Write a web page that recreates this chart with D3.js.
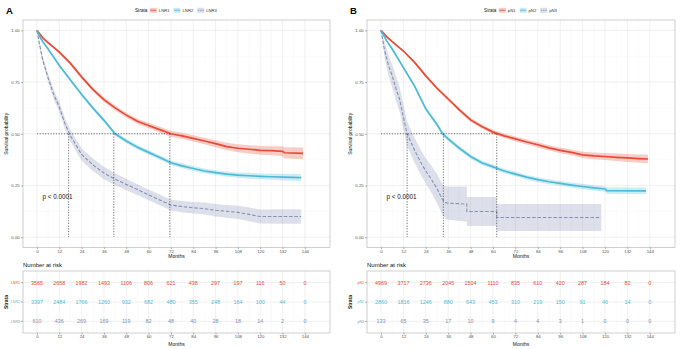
<!DOCTYPE html>
<html>
<head>
<meta charset="utf-8">
<script src="https://cdn.jsdelivr.net/npm/d3@7"></script>
<style>
  body { margin: 0; background: #fff; }
  svg { display: block; font-family: "Liberation Sans", Arial, sans-serif; }
</style>
</head>
<body>
<div id="chart"></div>
<script>
// ---- data ----
const monthTicks = [0, 12, 24, 36, 48, 60, 72, 84, 96, 108, 120, 132, 144];
const survTicks = [0, 0.25, 0.5, 0.75, 1];
const survTickLabels = ["0.00", "0.25", "0.50", "0.75", "1.00"];
const colors = ["#E64B35", "#4DBBD5", "#8491B4"];

// Panel A: LNR strata
const lnrNames = ["LNR1", "LNR2", "LNR3"];
const lnr1Time = [0, 3, 6, 9, 12, 18, 24, 30, 36, 42, 48, 54, 60, 66, 72, 78, 84, 90, 96, 102, 108, 114, 120, 126, 132, 133, 143];
const lnr1Surv = [1, 0.965, 0.94, 0.918, 0.895, 0.84, 0.775, 0.715, 0.665, 0.625, 0.59, 0.56, 0.54, 0.52, 0.50, 0.49, 0.478, 0.465, 0.452, 0.438, 0.43, 0.425, 0.42, 0.418, 0.415, 0.408, 0.405];
const lnr1Ci = [0, 0.004, 0.005, 0.006, 0.007, 0.008, 0.009, 0.01, 0.011, 0.012, 0.012, 0.013, 0.013, 0.014, 0.014, 0.015, 0.015, 0.016, 0.017, 0.018, 0.019, 0.02, 0.021, 0.022, 0.024, 0.027, 0.028];
const lnr2Time = [0, 2, 6, 12, 18, 24, 30, 36, 42, 48, 54, 60, 66, 72, 78, 84, 90, 96, 102, 108, 114, 120, 126, 132, 142];
const lnr2Surv = [1, 0.96, 0.91, 0.83, 0.76, 0.69, 0.625, 0.565, 0.50, 0.465, 0.435, 0.41, 0.385, 0.36, 0.345, 0.332, 0.32, 0.312, 0.305, 0.30, 0.297, 0.294, 0.292, 0.29, 0.288];
const lnr2Ci = [0, 0.004, 0.005, 0.007, 0.008, 0.009, 0.009, 0.01, 0.01, 0.011, 0.011, 0.011, 0.011, 0.011, 0.012, 0.012, 0.012, 0.012, 0.013, 0.013, 0.014, 0.014, 0.015, 0.016, 0.017];
const lnr3Time = [0, 1, 3, 6, 9, 12, 15, 18, 24, 30, 36, 42, 48, 54, 60, 66, 72, 78, 84, 90, 96, 102, 108, 114, 120, 132, 142];
const lnr3Surv = [1, 0.95, 0.86, 0.77, 0.69, 0.63, 0.55, 0.49, 0.40, 0.35, 0.31, 0.28, 0.255, 0.23, 0.205, 0.18, 0.155, 0.148, 0.142, 0.138, 0.13, 0.125, 0.12, 0.11, 0.10, 0.10, 0.10];
const lnr3Ci = [0, 0.012, 0.016, 0.02, 0.023, 0.025, 0.027, 0.028, 0.03, 0.03, 0.03, 0.029, 0.028, 0.026, 0.026, 0.026, 0.026, 0.027, 0.028, 0.029, 0.03, 0.031, 0.032, 0.033, 0.034, 0.035, 0.035];
const lnrMedians = [71.4, 41.3, 17];
const lnrRisk1 = [3565, 2658, 1982, 1493, 1106, 806, 621, 438, 297, 197, 116, 50, 0];
const lnrRisk2 = [3397, 2484, 1766, 1260, 932, 682, 480, 355, 248, 164, 100, 44, 0];
const lnrRisk3 = [610, 436, 269, 169, 119, 82, 48, 40, 28, 18, 14, 2, 0];

// Panel B: pN strata
const pnNames = ["pN1", "pN2", "pN3"];
const pn1Time = [0, 3, 6, 12, 18, 24, 30, 36, 42, 48, 54, 60, 66, 72, 78, 84, 90, 96, 102, 108, 114, 120, 126, 132, 138, 143];
const pn1Surv = [1, 0.97, 0.945, 0.90, 0.845, 0.78, 0.72, 0.668, 0.615, 0.567, 0.535, 0.508, 0.49, 0.475, 0.46, 0.447, 0.432, 0.42, 0.41, 0.398, 0.393, 0.39, 0.386, 0.383, 0.38, 0.378];
const pn1Ci = [0, 0.003, 0.004, 0.005, 0.006, 0.007, 0.008, 0.009, 0.009, 0.01, 0.01, 0.011, 0.011, 0.012, 0.012, 0.013, 0.013, 0.014, 0.014, 0.015, 0.016, 0.017, 0.018, 0.019, 0.02, 0.021];
const pn2Time = [0, 3, 6, 12, 18, 24, 30, 33, 36, 42, 48, 54, 60, 66, 72, 78, 84, 90, 96, 102, 108, 114, 120, 121, 142];
const pn2Surv = [1, 0.95, 0.91, 0.82, 0.73, 0.62, 0.545, 0.50, 0.475, 0.43, 0.39, 0.36, 0.34, 0.32, 0.305, 0.29, 0.278, 0.268, 0.26, 0.252, 0.245, 0.238, 0.233, 0.225, 0.224];
const pn2Ci = [0, 0.005, 0.006, 0.008, 0.009, 0.01, 0.011, 0.011, 0.011, 0.011, 0.011, 0.011, 0.011, 0.011, 0.011, 0.011, 0.012, 0.012, 0.012, 0.012, 0.013, 0.013, 0.013, 0.016, 0.016];
const pn3Time = [0, 2, 4, 6, 8, 10, 12, 14, 16, 18, 20, 22, 24, 27, 30, 33, 35, 46, 46, 62, 62, 118];
const pn3Surv = [1, 0.9, 0.83, 0.78, 0.72, 0.665, 0.58, 0.50, 0.46, 0.42, 0.385, 0.35, 0.32, 0.28, 0.235, 0.18, 0.165, 0.16, 0.124, 0.124, 0.095, 0.095];
const pn3Ci = [0, 0.04, 0.05, 0.055, 0.06, 0.06, 0.06, 0.06, 0.06, 0.06, 0.06, 0.06, 0.06, 0.065, 0.07, 0.075, 0.08, 0.085, 0.07, 0.07, 0.065, 0.065];
const pnMedians = [62, 33.4, 14];
const pnRisk1 = [4969, 3717, 2736, 2045, 1504, 1110, 835, 610, 420, 287, 184, 82, 0];
const pnRisk2 = [2860, 1816, 1246, 880, 643, 453, 310, 219, 150, 91, 46, 14, 0];
const pnRisk3 = [133, 65, 35, 17, 10, 9, 4, 4, 3, 1, 0, 0, 0];

// ---- drawing ----
const svg = d3.select("#chart").append("svg")
    .attr("width", 680)
    .attr("height", 349);

function toRows(time, surv, ci) {
  return time.map((t, i) => ({ t: t, s: surv[i], lo: Math.max(0, surv[i] - ci[i]), hi: Math.min(1, surv[i] + ci[i]) }));
}

function styleAxis(a) {
  a.select(".domain").remove();
  a.selectAll("line").attr("stroke", "#555").attr("stroke-width", 0.5);
  a.selectAll("text").attr("font-size", 4.3).attr("fill", "#4D4D4D")
    .attr("font-family", "Liberation Sans, Arial, sans-serif");
}

function drawPanel(cfg) {
  const left = cfg.left, right = cfg.right;
  const top = 20, bottom = 247.5;
  const x = d3.scaleLinear().domain([-7.5, 157.5]).range([left, right]);
  const y = d3.scaleLinear().domain([-0.05, 1.05]).range([bottom, top]);
  const g = svg.append("g");
  const cx = (left + right) / 2;

  // panel letter
  g.append("text").attr("x", left - 17).attr("y", 13.5)
    .attr("font-size", 9.5).attr("font-weight", "bold").text(cfg.letter);

  // grid
  const minorX = d3.range(6, 150, 12);
  const minorY = [0.125, 0.375, 0.625, 0.875];
  g.selectAll(".mx").data(minorX).join("line")
    .attr("x1", d => x(d)).attr("x2", d => x(d)).attr("y1", top).attr("y2", bottom)
    .attr("stroke", "#F3F3F3").attr("stroke-width", 0.4);
  g.selectAll(".my").data(minorY).join("line")
    .attr("x1", left).attr("x2", right).attr("y1", d => y(d)).attr("y2", d => y(d))
    .attr("stroke", "#F3F3F3").attr("stroke-width", 0.4);
  g.selectAll(".gx").data(monthTicks).join("line")
    .attr("x1", d => x(d)).attr("x2", d => x(d)).attr("y1", top).attr("y2", bottom)
    .attr("stroke", "#E6E6E6").attr("stroke-width", 0.6);
  g.selectAll(".gy").data(survTicks).join("line")
    .attr("x1", left).attr("x2", right).attr("y1", d => y(d)).attr("y2", d => y(d))
    .attr("stroke", "#E6E6E6").attr("stroke-width", 0.6);

  // confidence bands
  const area = d3.area().x(d => x(d.t)).y0(d => y(d.lo)).y1(d => y(d.hi));
  const line = d3.line().x(d => x(d.t)).y(d => y(d.s));
  cfg.curves.forEach((c, i) => {
    g.append("path").datum(c).attr("d", area)
      .attr("fill", colors[i]).attr("fill-opacity", 0.28);
  });
  cfg.curves.forEach((c, i) => {
    g.append("path").datum(c).attr("d", line)
      .attr("fill", "none").attr("stroke", colors[i])
      .attr("stroke-width", i === 2 ? 1.1 : 1.7)
      .attr("stroke-dasharray", i === 2 ? "3.5,1.8" : null);
  });

  // median lines
  g.append("line")
    .attr("x1", x(0)).attr("x2", x(d3.max(cfg.medians)))
    .attr("y1", y(0.5)).attr("y2", y(0.5))
    .attr("stroke", "#333").attr("stroke-width", 0.7).attr("stroke-dasharray", "1.2,1.5");
  g.selectAll(".med").data(cfg.medians).join("line")
    .attr("x1", d => x(d)).attr("x2", d => x(d))
    .attr("y1", y(0.5)).attr("y2", y(0))
    .attr("stroke", "#333").attr("stroke-width", 0.7).attr("stroke-dasharray", "1.2,1.5");

  // p value
  g.append("text").attr("x", x(3)).attr("y", 199)
    .attr("font-size", 6.3).attr("fill", "#111").text("p < 0.0001");

  // border
  g.append("rect").attr("x", left).attr("y", top)
    .attr("width", right - left).attr("height", bottom - top)
    .attr("fill", "none").attr("stroke", "#AFAFAF").attr("stroke-width", 0.6);

  // axes
  const yAxis = g.append("g").attr("transform", `translate(${left},0)`)
    .call(d3.axisLeft(y).tickValues(survTicks).tickFormat((d, i) => survTickLabels[i]).tickSize(1.8).tickPadding(1.5));
  const xAxis = g.append("g").attr("transform", `translate(0,${bottom})`)
    .call(d3.axisBottom(x).tickValues(monthTicks).tickSize(1.5).tickPadding(0.5));
  styleAxis(yAxis);
  styleAxis(xAxis);
  g.append("text").attr("x", cx).attr("y", 258.3).attr("text-anchor", "middle")
    .attr("font-size", 5).attr("fill", "#111").text("Months");
  g.append("text").attr("transform", `translate(${left - 15.5},${(top + bottom) / 2}) rotate(-90)`)
    .attr("text-anchor", "middle").attr("font-size", 5).attr("fill", "#111").text("Survival probability");

  // legend
  const leg = g.append("g");
  const title = leg.append("text").attr("y", 11.6).attr("font-size", 4.6).attr("fill", "#111").text("Strata");
  let lx = title.node().getComputedTextLength() + 2.5;
  cfg.names.forEach((n, i) => {
    leg.append("rect").attr("x", lx).attr("y", 7.8).attr("width", 7).attr("height", 5)
      .attr("fill", colors[i]).attr("fill-opacity", 0.3);
    leg.append("line").attr("x1", lx + 0.5).attr("x2", lx + 6.5).attr("y1", 10.3).attr("y2", 10.3)
      .attr("stroke", colors[i]).attr("stroke-width", 0.8)
      .attr("stroke-dasharray", i === 2 ? "1.5,0.8" : null);
    const t = leg.append("text").attr("x", lx + 9).attr("y", 11.6)
      .attr("font-size", 4.2).attr("fill", "#333").text(n);
    lx += 9 + t.node().getComputedTextLength() + 4;
  });
  leg.attr("transform", `translate(${cx + 1.5 - lx / 2},0)`);

  // ---- risk table ----
  const tTop = 271, tBottom = 333;
  const ry = d3.scaleLinear().domain([0.4, 3.6]).range([tTop, tBottom]);
  g.append("text").attr("x", left).attr("y", 267).attr("font-size", 6).attr("fill", "#111").text("Number at risk");
  g.selectAll(".tmx").data(minorX).join("line")
    .attr("x1", d => x(d)).attr("x2", d => x(d)).attr("y1", tTop).attr("y2", tBottom)
    .attr("stroke", "#F3F3F3").attr("stroke-width", 0.4);
  g.selectAll(".tgx").data(monthTicks).join("line")
    .attr("x1", d => x(d)).attr("x2", d => x(d)).attr("y1", tTop).attr("y2", tBottom)
    .attr("stroke", "#E6E6E6").attr("stroke-width", 0.6);
  g.selectAll(".tgy").data([1, 2, 3]).join("line")
    .attr("x1", left).attr("x2", right).attr("y1", d => ry(d)).attr("y2", d => ry(d))
    .attr("stroke", "#E6E6E6").attr("stroke-width", 0.6);
  g.append("rect").attr("x", left).attr("y", tTop)
    .attr("width", right - left).attr("height", tBottom - tTop)
    .attr("fill", "none").attr("stroke", "#AFAFAF").attr("stroke-width", 0.6);

  cfg.risk.forEach((row, i) => {
    g.selectAll(null).data(row).join("text")
      .attr("x", (d, j) => x(monthTicks[j])).attr("y", ry(i + 1) + 2)
      .attr("text-anchor", "middle").attr("font-size", 5.4)
      .attr("fill", colors[i]).text(d => d);
    g.append("line").attr("x1", left - 1.8).attr("x2", left).attr("y1", ry(i + 1)).attr("y2", ry(i + 1))
      .attr("stroke", "#555").attr("stroke-width", 0.5);
    g.append("text").attr("x", left - 3).attr("y", ry(i + 1) + 1.2)
      .attr("text-anchor", "end").attr("font-size", 3.6).attr("fill", colors[i]).text(cfg.names[i]);
  });
  const tAxis = g.append("g").attr("transform", `translate(0,${tBottom})`)
    .call(d3.axisBottom(x).tickValues(monthTicks).tickSize(1.5).tickPadding(0.8));
  styleAxis(tAxis);
  g.append("text").attr("x", cx).attr("y", 345.5).attr("text-anchor", "middle")
    .attr("font-size", 5).attr("fill", "#111").text("Months");
  g.append("text").attr("transform", `translate(${left - 15},${(tTop + tBottom) / 2}) rotate(-90)`)
    .attr("text-anchor", "middle").attr("font-size", 5).attr("font-weight", "bold").attr("fill", "#111").text("Strata");
}

drawPanel({
  letter: "A", left: 23, right: 330, names: lnrNames, medians: lnrMedians,
  curves: [toRows(lnr1Time, lnr1Surv, lnr1Ci), toRows(lnr2Time, lnr2Surv, lnr2Ci), toRows(lnr3Time, lnr3Surv, lnr3Ci)],
  risk: [lnrRisk1, lnrRisk2, lnrRisk3]
});
drawPanel({
  letter: "B", left: 367, right: 675, names: pnNames, medians: pnMedians,
  curves: [toRows(pn1Time, pn1Surv, pn1Ci), toRows(pn2Time, pn2Surv, pn2Ci), toRows(pn3Time, pn3Surv, pn3Ci)],
  risk: [pnRisk1, pnRisk2, pnRisk3]
});
</script>
</body>
</html>
